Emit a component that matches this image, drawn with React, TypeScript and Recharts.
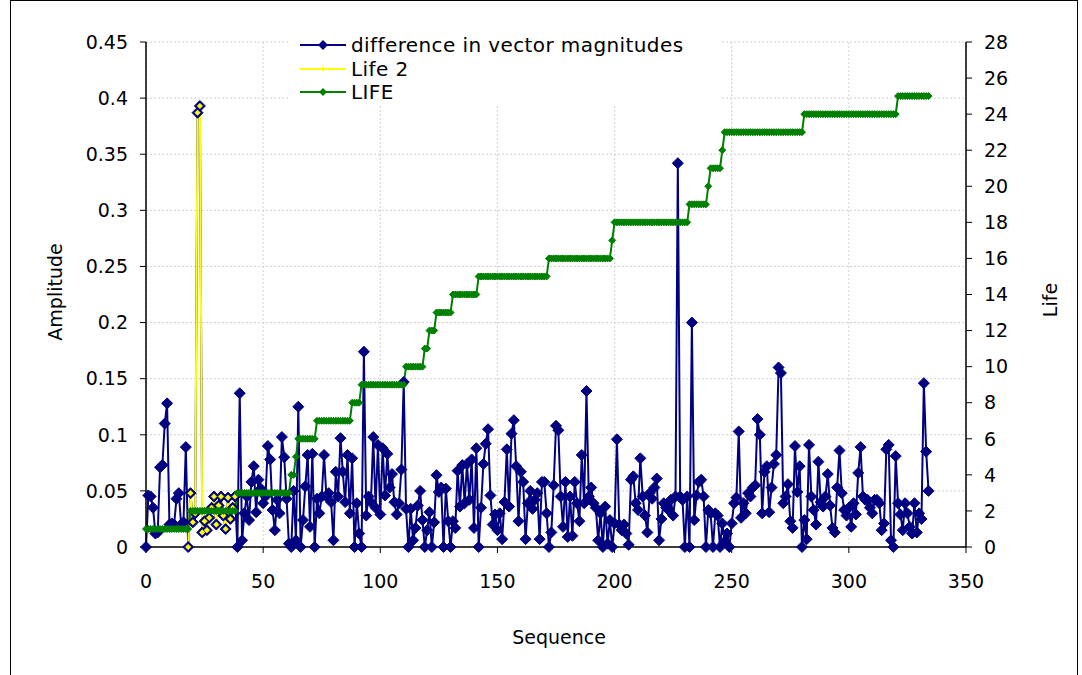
import React from 'react';
import { ComposedChart, Line, XAxis, YAxis, CartesianGrid } from 'recharts';

const SEQ_TICKS = [0, 50, 100, 150, 200, 250, 300, 350];
const AMP_TICKS = [0, 0.05, 0.1, 0.15, 0.2, 0.25, 0.3, 0.35, 0.4, 0.45];
const LIFE_TICKS = [0, 2, 4, 6, 8, 10, 12, 14, 16, 18, 20, 22, 24, 26, 28];

// difference in vector magnitudes, one value per sequence step (0..334)
const amplitude = [
  0, 0.046, 0.045, 0.035, 0.012, 0.013, 0.071, 0.073, 0.11, 0.128,
  0.02, 0.021, 0.02, 0.043, 0.048, 0.02, 0.022, 0.089, 0, 0.048,
  0.022, 0.03, 0.387, 0.393, 0.013, 0.023, 0.015, 0.026, 0.035, 0.045,
  0.02, 0.037, 0.045, 0.028, 0.016, 0.044, 0.025, 0.035, 0.045, 0,
  0.137, 0.006, 0.03, 0.045, 0.024, 0.058, 0.072, 0.031, 0.06, 0.052,
  0.039, 0.045, 0.09, 0.078, 0.033, 0.015, 0.042, 0.03, 0.098, 0.08,
  0.043, 0.003, 0, 0.05, 0.006, 0.125, 0, 0.024, 0.054, 0.082,
  0.018, 0.083, 0, 0.043, 0.03, 0.045, 0.082, 0.045, 0.048, 0.04,
  0.006, 0.067, 0.045, 0.097, 0.067, 0.04, 0.082, 0.03, 0.079, 0,
  0.039, 0.012, 0, 0.174, 0.028, 0.045, 0.04, 0.098, 0.035, 0.091,
  0.029, 0.088, 0.046, 0.083, 0.053, 0.065, 0.04, 0.029, 0.039, 0.069,
  0.147, 0.034, 0, 0.034, 0.006, 0.017, 0.037, 0.05, 0.024, 0,
  0.015, 0.031, 0, 0.022, 0.064, 0.049, 0.053, 0, 0.052, 0.023,
  0, 0.023, 0.017, 0.068, 0.036, 0.073, 0.039, 0.074, 0.042, 0.078,
  0.017, 0.088, 0, 0.035, 0.074, 0.092, 0.105, 0.046, 0.02, 0.029,
  0.015, 0.03, 0.007, 0.04, 0.087, 0.036, 0.101, 0.113, 0.072, 0.023,
  0.067, 0.058, 0.007, 0.039, 0.05, 0.034, 0.042, 0.048, 0.007, 0.058,
  0.058, 0.03, 0, 0.013, 0.055, 0.108, 0.104, 0.045, 0.018, 0.058,
  0.009, 0.045, 0.01, 0.058, 0.039, 0.023, 0.082, 0.039, 0.139, 0.045,
  0.053, 0.039, 0.035, 0.006, 0.03, 0, 0.036, 0.003, 0.024, 0,
  0.021, 0.096, 0.02, 0.015, 0.02, 0.012, 0.002, 0.06, 0.063, 0.039,
  0.033, 0.079, 0.045, 0.028, 0.013, 0.048, 0.043, 0.053, 0.061, 0.006,
  0.025, 0.039, 0.035, 0.033, 0.042, 0.028, 0.045, 0.342, 0.045, 0.042,
  0, 0.045, 0, 0.2, 0.024, 0.046, 0.058, 0.06, 0.045, 0,
  0.033, 0.03, 0, 0.03, 0.028, 0, 0.021, 0.005, 0.012, 0,
  0.021, 0.039, 0.044, 0.103, 0.026, 0.039, 0.03, 0.048, 0.045, 0.053,
  0.055, 0.114, 0.1, 0.03, 0.067, 0.072, 0.031, 0.053, 0.074, 0.082,
  0.16, 0.155, 0.039, 0.045, 0.056, 0.023, 0.017, 0.09, 0.049, 0.072,
  0, 0.024, 0.007, 0.091, 0.045, 0.033, 0.02, 0.076, 0.04, 0.036,
  0.045, 0.065, 0.037, 0.017, 0.013, 0.053, 0.086, 0.048, 0.033, 0.028,
  0.035, 0.018, 0.039, 0.029, 0.066, 0.089, 0.045, 0.042, 0.042, 0.035,
  0.03, 0.042, 0.042, 0.039, 0.015, 0.021, 0.087, 0.091, 0.006, 0,
  0.081, 0.039, 0.029, 0.015, 0.039, 0.03, 0.018, 0.012, 0.039, 0.013,
  0.03, 0.025, 0.146, 0.085, 0.05,
];

// LIFE steps: sequence where each level starts, and the level
const lifeStarts = [0, 19, 39, 62, 64, 65, 73, 88, 92, 111, 119, 121, 124, 131, 142, 172, 199, 200, 232, 240, 241, 246, 247, 281, 321];
const lifeLevels = [1, 2, 3, 4, 5, 6, 7, 8, 9, 10, 11, 12, 13, 14, 15, 16, 17, 18, 19, 20, 21, 22, 23, 24, 25];

// "Life 2" highlights the amplitude points of the second life
const life2Range = [18, 38];

const data = amplitude.map((amp, i) => {
  let life = lifeLevels[0];
  lifeStarts.forEach((s, k) => {
    if (i >= s) life = lifeLevels[k];
  });
  return {
    seq: i,
    amp,
    life2: i >= life2Range[0] && i <= life2Range[1] ? amp : null,
    life,
  };
});

const FONT = '"Comic Sans MS", "DejaVu Sans", sans-serif';

const diamond = (r: number, fill: string, stroke: string, sw = 1) => (props: any) => {
  const { cx, cy, index } = props;
  if (cx == null || cy == null || isNaN(cy)) return <g key={`d-${index}`} />;
  return (
    <path
      key={`d-${index}`}
      d={`M${cx},${cy - r}L${cx + r},${cy}L${cx},${cy + r}L${cx - r},${cy}Z`}
      fill={fill}
      stroke={stroke}
      strokeWidth={sw}
    />
  );
};

const tickStyle = { fontSize: 19, fill: '#000', fontFamily: FONT };

function LegendRow({ top, color, r, text }: { top: number; color: string; r: number; text: string }) {
  return (
    <div style={{ position: 'absolute', left: 10, top, height: 24, display: 'flex', alignItems: 'center' }}>
      <svg width={46} height={24}>
        <line x1={0} y1={12} x2={46} y2={12} stroke={color} strokeWidth={2} />
        <path d={`M23,${12 - r}L${23 + r},12L23,${12 + r}L${23 - r},12Z`} fill={color} />
      </svg>
      <span style={{ marginLeft: 5, fontSize: 20, letterSpacing: 0.4, fontFamily: FONT, color: '#000', whiteSpace: 'nowrap' }}>{text}</span>
    </div>
  );
}

export default function App() {
  return (
    <div style={{ position: 'absolute', left: 0, top: 0, width: 1082, height: 675, background: '#fff', overflow: 'hidden' }}>
      <div style={{ position: 'absolute', left: 10, top: 0, width: 1068, height: 690, border: '1px solid #000', boxSizing: 'border-box' }} />
      <ComposedChart
        width={1082}
        height={675}
        data={data}
        margin={{ top: 42, right: 56, bottom: 68, left: 86 }}
        style={{ position: 'absolute', left: 0, top: 0 }}
      >
        <CartesianGrid yAxisId="amp" stroke="#d0d0d0" strokeDasharray="2 2" />
        <XAxis
          dataKey="seq"
          type="number"
          domain={[0, 350]}
          ticks={SEQ_TICKS}
          tick={tickStyle}
          tickSize={6}
          tickMargin={22}
          height={60}
          axisLine={{ stroke: '#000', strokeWidth: 1.5 }}
          tickLine={{ stroke: '#000' }}
        />
        <YAxis
          yAxisId="amp"
          domain={[0, 0.45]}
          ticks={AMP_TICKS}
          tick={tickStyle}
          tickSize={6}
          tickMargin={12}
          width={60}
          axisLine={{ stroke: '#000', strokeWidth: 1.5 }}
          tickLine={{ stroke: '#000' }}
        />
        <YAxis
          yAxisId="life"
          orientation="right"
          domain={[0, 28]}
          ticks={LIFE_TICKS}
          tick={{ ...tickStyle, textAnchor: 'start' }}
          tickSize={6}
          tickMargin={12}
          width={60}
          axisLine={{ stroke: '#000', strokeWidth: 1.5 }}
          tickLine={{ stroke: '#000' }}
        />
        <Line
          yAxisId="amp"
          dataKey="amp"
          stroke="#000080"
          strokeWidth={2}
          dot={diamond(5.5, '#000080', '#000080')}
          isAnimationActive={false}
        />
        <Line
          yAxisId="amp"
          dataKey="life2"
          stroke="#ffff00"
          strokeWidth={2}
          connectNulls={false}
          dot={diamond(2.8, '#ffff00', '#ffff00', 0.5)}
          isAnimationActive={false}
        />
        <Line
          yAxisId="life"
          dataKey="life"
          stroke="#008000"
          strokeWidth={2}
          dot={diamond(3.5, '#008000', '#008000')}
          isAnimationActive={false}
        />
      </ComposedChart>

      <div style={{ position: 'absolute', left: 290, top: 30, width: 432, height: 76, background: '#fff' }}>
        <LegendRow top={3} color="#000080" r={5} text="difference in vector magnitudes" />
        <LegendRow top={27} color="#ffff00" r={2.5} text="Life 2" />
        <LegendRow top={50} color="#008000" r={4} text="LIFE" />
      </div>

      <div
        style={{
          position: 'absolute', left: 55, top: 292, fontSize: 19, fontFamily: FONT,
          transform: 'translate(-50%, -50%) rotate(-90deg)', whiteSpace: 'nowrap',
        }}
      >
        Amplitude
      </div>
      <div
        style={{
          position: 'absolute', left: 1050, top: 300, fontSize: 19, fontFamily: FONT,
          transform: 'translate(-50%, -50%) rotate(-90deg)', whiteSpace: 'nowrap',
        }}
      >
        Life
      </div>
      <div
        style={{
          position: 'absolute', left: 559, top: 637, fontSize: 19, fontFamily: FONT,
          transform: 'translate(-50%, -50%)', whiteSpace: 'nowrap',
        }}
      >
        Sequence
      </div>
    </div>
  );
}
